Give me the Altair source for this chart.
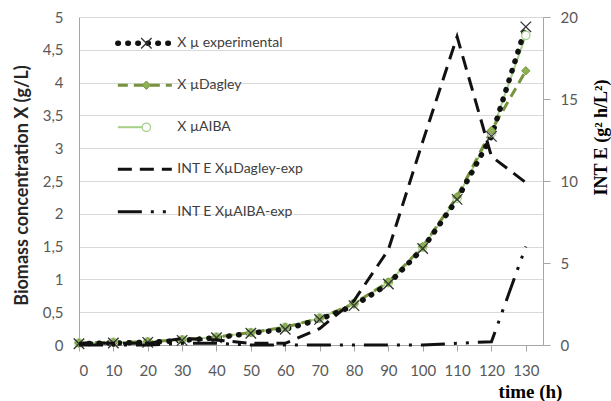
import altair as alt
import pandas as pd

# ---------------- data ----------------
hours = [0, 10, 20, 30, 40, 50, 60, 70, 80, 90, 100, 110, 120, 130]
x_exp = [0.02, 0.03, 0.04, 0.07, 0.11, 0.18, 0.24, 0.39, 0.60, 0.93, 1.47, 2.22, 3.18, 4.85]
x_dagley = [0.03, 0.04, 0.05, 0.08, 0.12, 0.19, 0.27, 0.41, 0.63, 0.96, 1.50, 2.26, 3.27, 4.18]
x_aiba = [0.03, 0.04, 0.05, 0.08, 0.12, 0.19, 0.27, 0.41, 0.63, 0.95, 1.49, 2.24, 3.23, 4.72]
inte_dagley = [0.1, 0.1, 0.1, 0.4, 0.3, 0.1, 0.1, 1.0, 2.7, 5.8, 12.4, 18.8, 11.5, 9.9]
inte_aiba = [0.0, 0.0, 0.0, 0.1, 0.1, 0.0, 0.0, 0.0, 0.0, 0.0, 0.0, 0.1, 0.2, 6.0]

legend_labels = ["X \u00b5 experimental", "X \u00b5Dagley", "X \u00b5AIBA",
                 "INT E X\u00b5Dagley-exp", "INT E X\u00b5AIBA-exp"]
x_ticks = list(range(0, 140, 10))

# ---------------- layout / style ----------------
W, H = 464, 328
LEG_Y = [4.6, 3.96, 3.32, 2.68, 2.03]   # legend rows (left-axis units)
LEG_X0, LEG_X1, LEG_XM, LEG_XT = 11.3, 27.0, 19.6, 28.6

C_DAG = "#77933C"
C_DAG_FILL = "#8DB255"
C_AIBA = "#A6D08A"
C_BLACK = "#111111"
FONT = "Lato"
SERIF = "Liberation Serif"

df = pd.DataFrame({"h": hours, "exp": x_exp, "dag": x_dagley, "aiba": x_aiba,
                   "idag": inte_dagley, "iaiba": inte_aiba})

xenc = alt.X("h:Q", scale=alt.Scale(domain=[0, 135], nice=False, zero=False),
             axis=alt.Axis(values=x_ticks, title="time (h)", grid=False,
                           domainColor="#A6A6A6", tickColor="#A6A6A6", tickSize=6,
                           labelFont=FONT, labelFontSize=15, labelColor="#595959",
                           labelPadding=12,
                           titleFont=SERIF, titleFontSize=19, titleFontWeight="bold",
                           titleColor="#000000", titleX=451, titleY=46,
                           titleAlign="center", titleBaseline="middle"))

left_axis = alt.Axis(values=[i * 0.5 for i in range(11)],
                     labelExpr="replace(format(datum.value, '.1~f'), '.', ',')",
                     title="Biomass concentration X (g/L)", grid=True,
                     gridColor="#D9D9D9", gridWidth=1,
                     domainColor="#A6A6A6", ticks=False,
                     labelFont=FONT, labelFontSize=15, labelColor="#595959",
                     labelPadding=16,
                     titleFont=FONT, titleFontSize=18, titleFontWeight="bold",
                     titleColor="#262626", titleX=-57, titleY=168,
                     titleAngle=270, titleAlign="center", titleBaseline="middle")


def ly(field):
    return alt.Y(f"{field}:Q", scale=alt.Scale(domain=[0, 5], nice=False), axis=left_axis)


right_axis = alt.Axis(values=[0, 5, 10, 15, 20], orient="right",
                      title="INT E (g\u00b2 h/L\u00b2)", grid=False,
                      domainColor="#A6A6A6", tickColor="#A6A6A6", tickSize=7,
                      labelFont=FONT, labelFontSize=15, labelColor="#595959",
                      labelPadding=10,
                      titleFont=SERIF, titleFontSize=18, titleFontWeight="bold",
                      titleColor="#000000", titleX=58, titleY=120,
                      titleAngle=270, titleAlign="center", titleBaseline="middle")


def ry(field):
    return alt.Y(f"{field}:Q", scale=alt.Scale(domain=[0, 20], nice=False), axis=right_axis)


base = alt.Chart(df)

DOT = dict(strokeDash=[0.5, 9.5], strokeCap="round", strokeWidth=5.5, color=C_BLACK)
DAGL = dict(strokeDash=[10, 6], strokeWidth=3, color=C_DAG)
AIBAL = dict(strokeWidth=2, color=C_AIBA)
IDAG = dict(strokeDash=[14, 8], strokeWidth=3, color=C_BLACK)
IAIBA = dict(strokeDash=[24, 9, 3, 9, 3, 9], strokeWidth=3, color=C_BLACK)
XPATH = "M-1,-1L1,1M-1,1L1,-1"
MK_EXP = dict(shape=XPATH, filled=False, size=110, strokeWidth=1.3, color="#333333", opacity=1)
MK_DAG = dict(shape="diamond", filled=True, size=70, fill=C_DAG_FILL, stroke=C_DAG,
              strokeWidth=1, opacity=1)
MK_AIBA = dict(shape="circle", filled=True, size=70, fill="white", stroke=C_AIBA,
               strokeWidth=1.3, opacity=1)

aiba_line = base.mark_line(**AIBAL).encode(x=xenc, y=ly("aiba"))
dag_line = base.mark_line(**DAGL).encode(x=xenc, y=ly("dag"))
exp_line = base.mark_line(**DOT).encode(x=xenc, y=ly("exp"))
aiba_pts = base.mark_point(**MK_AIBA).encode(x=xenc, y=ly("aiba"))
dag_pts = base.mark_point(**MK_DAG).encode(x=xenc, y=ly("dag"))
exp_pts = base.mark_point(**MK_EXP).encode(x=xenc, y=ly("exp"))

# ---- legend built in data coordinates ----
def leg_seg(i, x0, x1, style):
    d = pd.DataFrame({"h": [x0, x1], "v": [LEG_Y[i], LEG_Y[i]]})
    return alt.Chart(d).mark_line(**style).encode(x=xenc, y=ly("v"))


def leg_pt(i, style):
    d = pd.DataFrame({"h": [LEG_XM], "v": [LEG_Y[i]]})
    return alt.Chart(d).mark_point(**style).encode(x=xenc, y=ly("v"))


leg_txt_df = pd.DataFrame({"h": [LEG_XT] * 5, "v": LEG_Y, "t": legend_labels})
leg_text = alt.Chart(leg_txt_df).mark_text(align="left", baseline="middle", font=FONT,
                                          fontSize=14, color="#404040").encode(
    x=xenc, y=ly("v"), text="t:N")

legend_layers = [
    leg_seg(0, LEG_X0, LEG_X1, DOT), leg_pt(0, MK_EXP),
    leg_seg(1, LEG_X0, LEG_X1, DAGL), leg_pt(1, MK_DAG),
    leg_seg(2, LEG_X0, LEG_XM, AIBAL), leg_pt(2, MK_AIBA),
    leg_seg(3, LEG_X0, LEG_X1, IDAG),
    leg_seg(4, LEG_X0, LEG_X1, IAIBA),
    leg_text,
]

left = alt.layer(aiba_line, dag_line, exp_line, aiba_pts, dag_pts, exp_pts, *legend_layers)

idag_line = base.mark_line(**IDAG).encode(x=xenc, y=ry("idag"))
iaiba_line = base.mark_line(**IAIBA).encode(x=xenc, y=ry("iaiba"))
right = alt.layer(idag_line, iaiba_line)

chart = alt.layer(left, right).resolve_scale(y="independent").properties(
    width=W, height=H,
    padding={"left": 79, "top": 17, "right": 68, "bottom": 56},
    autosize=alt.AutoSizeParams(type="none"),
    background="white",
).configure_view(stroke=None)

chart.save("out.html", embed_options={"renderer": "svg", "actions": False})
